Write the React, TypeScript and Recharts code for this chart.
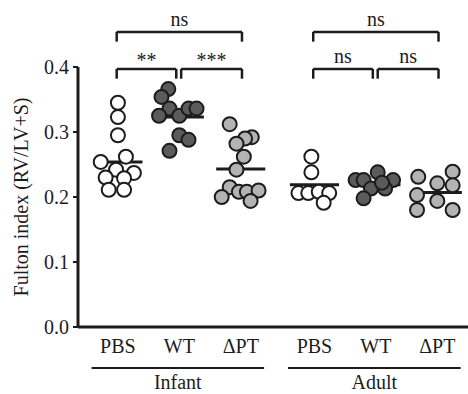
import {
  ScatterChart,
  Scatter,
  XAxis,
  YAxis,
  ReferenceLine
} from 'recharts'

// group positions on the x scale (infant 0..2, adult 3.2..5.2)
const groupNames = ['PBS', 'WT', 'ΔPT', 'PBS', 'WT', 'ΔPT']
const groupPos = [0, 1, 2, 3.2, 4.2, 5.2]
const yTicks = [0, 0.1, 0.2, 0.3, 0.4]

const infantPbs = [0.345, 0.323, 0.295, 0.254, 0.262, 0.242, 0.23, 0.237, 0.229, 0.211, 0.211]
const infantPbsJitter = [0, 0, 0, -0.28, 0.13, -0.03, -0.2, 0.26, 0.1, -0.15, 0.1]
const infantWt = [0.366, 0.354, 0.336, 0.325, 0.325, 0.336, 0.336, 0.295, 0.288, 0.271]
const infantWtJitter = [-0.18, -0.29, -0.16, -0.33, 0, 0.15, 0.28, 0, 0.15, -0.16]
const infantDpt = [0.312, 0.292, 0.29, 0.282, 0.262, 0.242, 0.215, 0.2, 0.208, 0.208, 0.21, 0.194]
const infantDptJitter = [-0.18, 0.18, 0.07, -0.07, 0.05, -0.07, -0.18, -0.31, -0.03, 0.1, 0.29, 0.16]
const adultPbs = [0.262, 0.238, 0.206, 0.206, 0.208, 0.206, 0.191]
const adultPbsJitter = [-0.05, -0.05, -0.26, -0.1, 0.07, 0.24, 0.15]
const adultWt = [0.238, 0.226, 0.226, 0.226, 0.213, 0.213, 0.198, 0.222]
const adultWtJitter = [0.03, -0.33, -0.2, 0.28, -0.08, 0.15, -0.2, 0.1]
const adultDpt = [0.231, 0.221, 0.239, 0.218, 0.203, 0.194, 0.18, 0.18]
const adultDptJitter = [-0.31, 0, 0.25, 0.25, -0.33, 0, -0.33, 0.25]

const means = [0.254, 0.323, 0.243, 0.219, 0.219, 0.207]
const fills = ['#ffffff', '#5b5b5b', '#b3b3b3', '#ffffff', '#5b5b5b', '#b3b3b3']

const groupValues = [infantPbs, infantWt, infantDpt, adultPbs, adultWt, adultDpt]
const groupJitter = [infantPbsJitter, infantWtJitter, infantDptJitter, adultPbsJitter, adultWtJitter, adultDptJitter]

// significance brackets: [from group, to group, level, label]
const brackets: [number, number, number, string][] = [
  [0, 2, 0.454, 'ns'],
  [0, 1, 0.397, '**'],
  [1, 2, 0.397, '***'],
  [3, 5, 0.454, 'ns'],
  [3, 4, 0.397, 'ns'],
  [4, 5, 0.397, 'ns']
]
const sections = [
  { name: 'Infant', from: 0, to: 2 },
  { name: 'Adult', from: 3, to: 5 }
]

const ink = '#1c1c1c'
const font = "'Liberation Serif', 'DejaVu Serif', serif"

const dot = (fill: string) => (props: any) => (
  <circle cx={props.cx} cy={props.cy} r={7} fill={fill} stroke={ink} strokeWidth={2} />
)

export default function App() {
  const series = groupValues.map((vals, g) =>
    vals.map((v, i) => ({ x: groupPos[g] + groupJitter[g][i], y: v }))
  )

  return (
    <div style={{ position: 'absolute', left: 0, top: 0, fontFamily: font }}>
      <ScatterChart width={468} height={394} margin={{ top: 67, right: 0, bottom: 37, left: 18 }}>
        <XAxis
          type="number"
          dataKey="x"
          domain={[-0.65, 5.7]}
          ticks={groupPos}
          interval={0}
          tickFormatter={(v: number) => groupNames[groupPos.indexOf(v)] ?? ''}
          tickLine={false}
          tickMargin={6}
          axisLine={{ stroke: ink, strokeWidth: 3 }}
          tick={{ fill: ink, fontSize: 20, fontFamily: font }}
          height={30}
          allowDataOverflow
        />
        <YAxis
          type="number"
          dataKey="y"
          domain={[0, 0.4]}
          ticks={yTicks}
          tickFormatter={(v: number) => v.toFixed(1)}
          tickSize={5}
          tickMargin={4}
          width={60}
          axisLine={{ stroke: ink, strokeWidth: 3 }}
          tickLine={{ stroke: ink, strokeWidth: 2 }}
          tick={{ fill: ink, fontSize: 20, fontFamily: font }}
          label={{
            value: 'Fulton index (RV/LV+S)',
            angle: -90,
            position: 'insideLeft',
            offset: 3,
            style: { textAnchor: 'middle', fill: ink, fontSize: 20, fontFamily: font }
          }}
        />
        {series.map((pts, g) => (
          <Scatter key={g} data={pts} shape={dot(fills[g])} isAnimationActive={false} />
        ))}
        {means.map((m, g) => (
          <ReferenceLine
            key={'m' + g}
            segment={[{ x: groupPos[g] - 0.4, y: m }, { x: groupPos[g] + 0.4, y: m }]}
            stroke={ink}
            strokeWidth={3}
            ifOverflow="visible"
          />
        ))}
        {brackets.map(([a, b, lvl, txt], i) => {
          const x1 = groupPos[a] + (i % 3 === 2 ? 0.03 : -0.02)
          const x2 = groupPos[b] - (i % 3 === 1 ? 0.05 : -0.02)
          return [
            <ReferenceLine
              key={'bh' + i}
              segment={[{ x: x1, y: lvl }, { x: x2, y: lvl }]}
              stroke={ink}
              strokeWidth={2.5}
              ifOverflow="visible"
              label={{
                value: txt,
                position: 'top',
                offset: txt === 'ns' ? 6 : 2,
                style: { fill: ink, fontSize: 20, fontFamily: font }
              }}
            />,
            <ReferenceLine
              key={'bl' + i}
              segment={[{ x: x1, y: lvl }, { x: x1, y: lvl - 0.015 }]}
              stroke={ink}
              strokeWidth={2.5}
              ifOverflow="visible"
            />,
            <ReferenceLine
              key={'br' + i}
              segment={[{ x: x2, y: lvl }, { x: x2, y: lvl - 0.015 }]}
              stroke={ink}
              strokeWidth={2.5}
              ifOverflow="visible"
            />
          ]
        })}
        {sections.map((s) => (
          <ReferenceLine
            key={s.name}
            segment={[
              { x: groupPos[s.from] - 0.43, y: -0.063 },
              { x: groupPos[s.to] + 0.38, y: -0.063 }
            ]}
            stroke={ink}
            strokeWidth={2}
            ifOverflow="visible"
            label={{
              value: s.name,
              position: 'bottom',
              offset: 7,
              style: { fill: ink, fontSize: 20, fontFamily: font }
            }}
          />
        ))}
      </ScatterChart>
    </div>
  )
}
